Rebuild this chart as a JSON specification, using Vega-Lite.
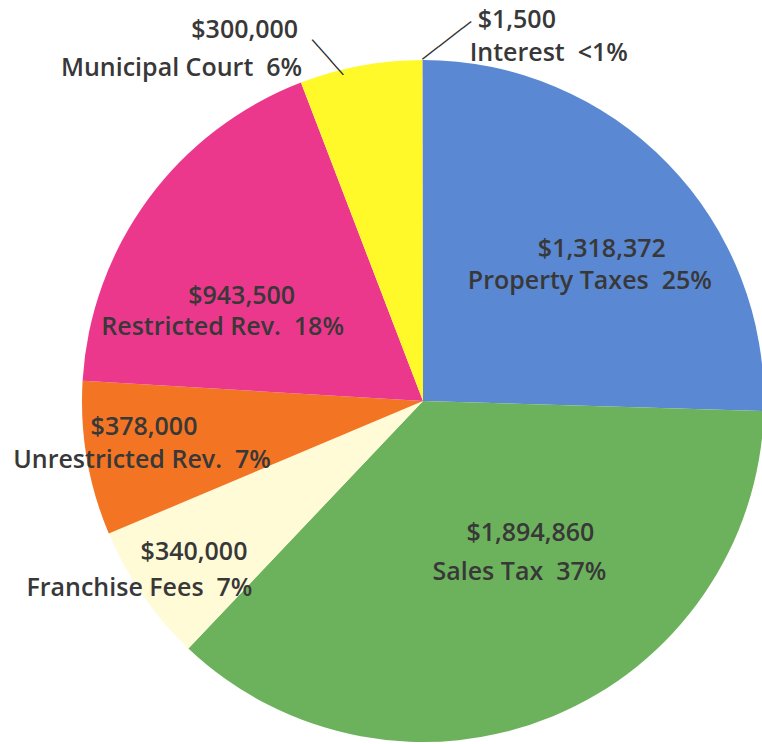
{
  "$schema": "https://vega.github.io/schema/vega-lite/v6.json",
  "width": 678,
  "height": 686,
  "autosize": {"type": "none"},
  "padding": {"left": 84, "top": 58, "right": 0, "bottom": 0},
  "background": "white",
  "data": {
    "values": [
      {"idx": 1, "source": "Property Taxes", "amount": 1318372, "money": "$1,318,372", "name": "Property Taxes\u00a0 25%"},
      {"idx": 2, "source": "Sales Tax", "amount": 1894860, "money": "$1,894,860", "name": "Sales Tax\u00a0 37%"},
      {"idx": 3, "source": "Franchise Fees", "amount": 340000, "money": "$340,000", "name": "Franchise Fees\u00a0 7%"},
      {"idx": 4, "source": "Unrestricted Rev.", "amount": 378000, "money": "$378,000", "name": "Unrestricted Rev.\u00a0 7%"},
      {"idx": 5, "source": "Restricted Rev.", "amount": 943500, "money": "$943,500", "name": "Restricted Rev.\u00a0 18%"},
      {"idx": 6, "source": "Municipal Court", "amount": 300000, "money": "$300,000", "name": "Municipal Court\u00a0 6%"},
      {"idx": 7, "source": "Interest", "amount": 1500, "money": "$1,500", "name": "Interest\u00a0 <1%"}
    ]
  },
  "encoding": {
    "theta": {"field": "amount", "type": "quantitative", "stack": true},
    "order": {"field": "idx", "type": "quantitative", "sort": "ascending"}
  },
  "layer": [
    {
      "mark": {"type": "arc", "outerRadius": 341, "strokeWidth": 0},
      "encoding": {
        "color": {
          "field": "source",
          "type": "nominal",
          "scale": {
            "domain": ["Property Taxes", "Sales Tax", "Franchise Fees", "Unrestricted Rev.", "Restricted Rev.", "Municipal Court", "Interest"],
            "range": ["#5A88D2", "#6CB25C", "#FFFBD6", "#F37524", "#EC388C", "#FFF92A", "#A5A5A5"]
          },
          "legend": null
        }
      }
    },
    {"mark": {"type": "text", "radius": 220, "dx": 21, "dy": 1, "align": "center"},
     "encoding": {"text": {"condition": {"test": "datum.idx == 1", "field": "money", "type": "nominal"}, "value": ""}}},
    {"mark": {"type": "text", "radius": 220, "dx": 9, "dy": 33, "align": "center"},
     "encoding": {"text": {"condition": {"test": "datum.idx == 1", "field": "name", "type": "nominal"}, "value": ""}}},
    {"mark": {"type": "text", "radius": 182, "dx": 38, "dy": -36, "align": "center"},
     "encoding": {"text": {"condition": {"test": "datum.idx == 2", "field": "money", "type": "nominal"}, "value": ""}}},
    {"mark": {"type": "text", "radius": 182, "dx": 27, "dy": 3, "align": "center"},
     "encoding": {"text": {"condition": {"test": "datum.idx == 2", "field": "name", "type": "nominal"}, "value": ""}}},
    {"mark": {"type": "text", "radius": 250, "dx": 30, "dy": 9, "align": "right"},
     "encoding": {"text": {"condition": {"test": "datum.idx == 3", "field": "money", "type": "nominal"}, "value": ""}}},
    {"mark": {"type": "text", "radius": 250, "dx": 35, "dy": 45, "align": "right"},
     "encoding": {"text": {"condition": {"test": "datum.idx == 3", "field": "name", "type": "nominal"}, "value": ""}}},
    {"mark": {"type": "text", "radius": 280, "dx": -3, "dy": -21, "align": "center"},
     "encoding": {"text": {"condition": {"test": "datum.idx == 4", "field": "money", "type": "nominal"}, "value": ""}}},
    {"mark": {"type": "text", "radius": 280, "dx": -5, "dy": 12, "align": "center"},
     "encoding": {"text": {"condition": {"test": "datum.idx == 4", "field": "name", "type": "nominal"}, "value": ""}}},
    {"mark": {"type": "text", "radius": 200, "dx": -20, "dy": 13, "align": "center"},
     "encoding": {"text": {"condition": {"test": "datum.idx == 5", "field": "money", "type": "nominal"}, "value": ""}}},
    {"mark": {"type": "text", "radius": 200, "dx": -39, "dy": 44, "align": "center"},
     "encoding": {"text": {"condition": {"test": "datum.idx == 5", "field": "name", "type": "nominal"}, "value": ""}}},
    {"mark": {"type": "text", "radius": 360, "dx": -59, "dy": -17, "align": "right"},
     "encoding": {"text": {"condition": {"test": "datum.idx == 6", "field": "money", "type": "nominal"}, "value": ""}}},
    {"mark": {"type": "text", "radius": 360, "dx": -55, "dy": 21, "align": "right"},
     "encoding": {"text": {"condition": {"test": "datum.idx == 6", "field": "name", "type": "nominal"}, "value": ""}}},
    {"mark": {"type": "text", "radius": 364, "dx": 55, "dy": -17, "align": "left"},
     "encoding": {"text": {"condition": {"test": "datum.idx == 7", "field": "money", "type": "nominal"}, "value": ""}}},
    {"mark": {"type": "text", "radius": 364, "dx": 47, "dy": 16, "align": "left"},
     "encoding": {"text": {"condition": {"test": "datum.idx == 7", "field": "name", "type": "nominal"}, "value": ""}}},
    {"mark": {"type": "text", "radius": 341, "angle": -37.8, "dx": 31, "dy": 0, "align": "center", "font": "DejaVu Sans", "fontSize": 17, "fontWeight": "normal", "fill": "#333333"},
     "encoding": {"text": {"condition": {"test": "datum.idx == 7", "value": "──────"}, "value": ""}}},
    {"mark": {"type": "text", "radius": 303.4, "angle": 48.5, "dx": -60.4, "dy": 0, "align": "center", "font": "DejaVu Sans", "fontSize": 15.5, "fontWeight": "normal", "fill": "#222222"},
     "encoding": {"text": {"condition": {"test": "datum.idx == 6", "value": "─────"}, "value": ""}}}
  ],
  "config": {
    "view": {"stroke": null},
    "text": {"font": "Open Sans", "fontSize": 25, "fontWeight": 600, "fill": "#383838", "baseline": "middle"}
  }
}
